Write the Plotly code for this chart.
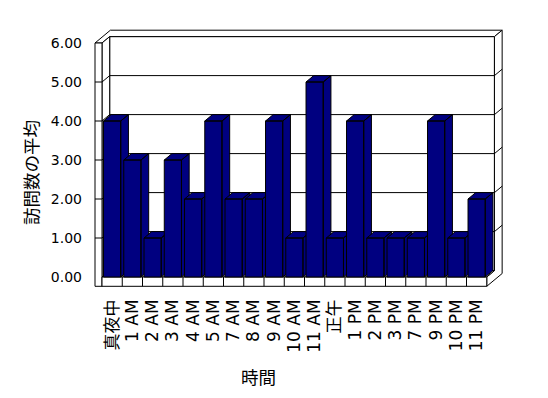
import plotly.graph_objects as go

# ---------------- data ----------------
categories = ["真夜中", "1 AM", "2 AM", "3 AM", "4 AM", "5 AM", "7 AM", "8 AM", "9 AM",
              "10 AM", "11 AM", "正午", "1 PM", "2 PM", "3 PM", "7 PM", "9 PM", "10 PM", "11 PM"]
visits_avg = [4, 3, 1, 3, 2, 4, 2, 2, 4, 1, 5, 1, 4, 1, 1, 1, 4, 1, 2]
y_ticks = [0, 1, 2, 3, 4, 5, 6]
y_tick_labels = ["0.00", "1.00", "2.00", "3.00", "4.00", "5.00", "6.00"]
x_title = "時間"
y_title = "訪問数の平均"

# ---------------- layout geometry (pixels in the 548x398 window) ----------------
W, H = 548, 398
OFF = 8                 # default page body margin
PX_CAT = 20.25          # pixels per category
PX_VAL = 39.0           # pixels per value unit
FLOOR_LEFT_PX = 102     # screen x of category edge -0.5
BASE_PX = 277           # screen y of value 0
L, R, T, B = 90, 510, 25, 295
xa = (L - FLOOR_LEFT_PX) / PX_CAT - 0.5
xb = (R - FLOOR_LEFT_PX) / PX_CAT - 0.5
ya = (BASE_PX - B) / PX_VAL
yb = (BASE_PX - T) / PX_VAL

# oblique 3D styling (in axis units)
DX = 7.7 / PX_CAT
DY = 6.4 / PX_VAL
WALL_T = 7.0 / PX_CAT
FLOOR_T = 9.3 / PX_VAL
BAR_W = 0.85
NAVY = "#000080"
FONT_X = "DejaVu Sans, Noto Sans CJK JP, sans-serif"
FONT_T = "Noto Sans CJK JP, DejaVu Sans, sans-serif"

n = len(categories)
u0, u1 = -0.5, n - 0.5
ymax = y_ticks[-1]


def P(x, y, z):
    return x + z * DX, y + z * DY


def polys(list_of_polys, close=True):
    xs, ys = [], []
    for pts in list_of_polys:
        pp = [P(*p) for p in pts]
        if close:
            pp.append(pp[0])
        xs += [p[0] for p in pp] + [None]
        ys += [p[1] for p in pp] + [None]
    return xs[:-1], ys[:-1]


fig = go.Figure()


def add_face(pts_list, fill="white", close=True):
    xs, ys = polys(pts_list, close)
    fig.add_trace(go.Scatter(
        x=xs, y=ys, mode="lines",
        fill="toself" if fill else None, fillcolor=fill,
        line=dict(color="black", width=1),
        hoverinfo="skip", showlegend=False))


# back wall (front face at depth 1)
add_face([[(u0, 0, 1), (u1, 0, 1), (u1, ymax, 1), (u0, ymax, 1)]])
# top of left + back wall
add_face([[(u0 - WALL_T, ymax, 0), (u0, ymax, 0), (u0, ymax, 1), (u1, ymax, 1),
           (u1, ymax, 2), (u0 - WALL_T, ymax, 2)]])
# right side of back wall + floor
add_face([[(u1, ymax, 1), (u1, ymax, 2), (u1, -FLOOR_T, 2), (u1, -FLOOR_T, 0),
           (u1, 0, 0), (u1, 0, 1)]])
# left wall inner face
add_face([[(u0, 0, 0), (u0, ymax, 0), (u0, ymax, 1), (u0, 0, 1)]])
# left wall front face
add_face([[(u0 - WALL_T, -FLOOR_T, 0), (u0, -FLOOR_T, 0), (u0, ymax, 0), (u0 - WALL_T, ymax, 0)]])
# floor top
add_face([[(u0, 0, 0), (u1, 0, 0), (u1, 0, 1), (u0, 0, 1)]])
# floor front with category dividers
add_face([[(u0, -FLOOR_T, 0), (u1, -FLOOR_T, 0), (u1, 0, 0), (u0, 0, 0)]])
add_face([[(u0 + k, -FLOOR_T, 0), (u0 + k, 0, 0)] for k in range(1, n)], fill=None, close=False)
# gridlines
add_face([[(u0 - WALL_T, v, 0), (u0, v, 0), (u0, v, 1), (u1, v, 1), (u1, v, 2)]
          for v in y_ticks[1:-1]], fill=None, close=False)

# bars (top, side, front), left to right
for i, v in enumerate(visits_avg):
    l, r = i - BAR_W / 2, i + BAR_W / 2
    add_face([[(l, v, 0), (r, v, 0), (r, v, 1), (l, v, 1)],
              [(r, 0, 0), (r, v, 0), (r, v, 1), (r, 0, 1)],
              [(l, 0, 0), (r, 0, 0), (r, v, 0), (l, v, 0)]], fill=NAVY)

fig.update_layout(
    width=W - OFF, height=H - OFF, autosize=False,
    margin=dict(l=L - OFF, r=W - R, t=T - OFF, b=H - B, pad=0),
    paper_bgcolor="white", plot_bgcolor="white",
    font=dict(family=FONT_X, color="black", size=15),
    showlegend=False,
    xaxis=dict(range=[xa, xb], tickmode="array", tickvals=list(range(n)), ticktext=categories,
               tickangle=-90, tickfont=dict(size=17), showgrid=False, zeroline=False,
               showline=False, ticks="", fixedrange=True),
    yaxis=dict(range=[ya, yb], tickmode="array", tickvals=y_ticks, ticktext=y_tick_labels,
               tickfont=dict(size=14), showgrid=False, zeroline=False, showline=False,
               ticks="", ticklabelstandoff=7, fixedrange=True),
    annotations=[
        dict(text=y_title, xref="paper", yref="paper",
             x=(30 - L) / (R - L), y=(B - 173) / (B - T), textangle=-90,
             showarrow=False, font=dict(size=17.5, family=FONT_T),
             xanchor="center", yanchor="middle"),
        dict(text=x_title, xref="paper", yref="paper",
             x=(258 - L) / (R - L), y=(B - 376) / (B - T),
             showarrow=False, font=dict(size=17.5, family=FONT_T),
             xanchor="center", yanchor="middle"),
    ],
)

fig.write_html("out.html", config={"displayModeBar": False})
